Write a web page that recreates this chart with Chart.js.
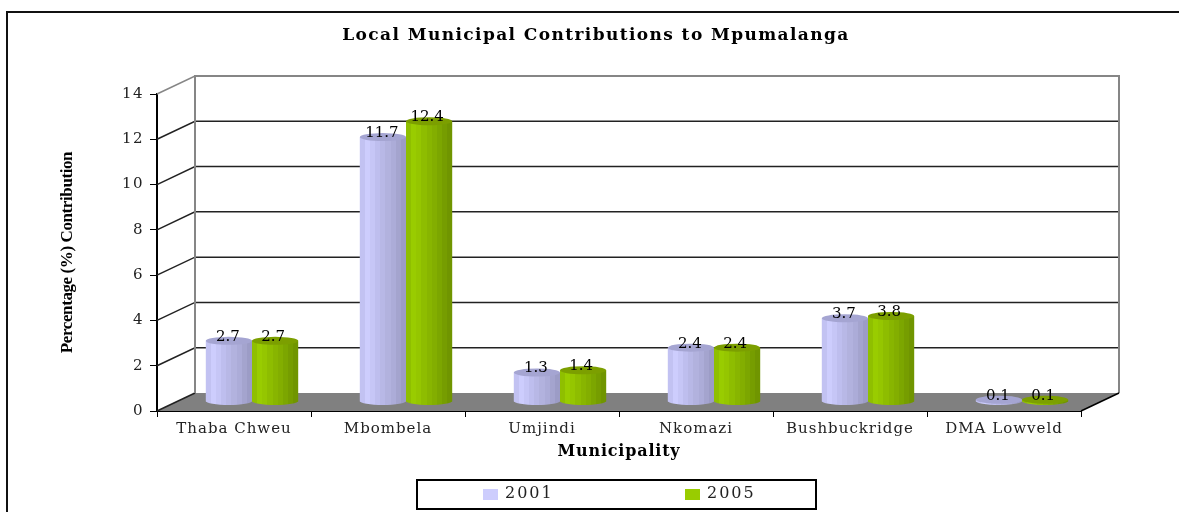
<!DOCTYPE html>
<html>
<head>
<meta charset="utf-8">
<title>Local Municipal Contributions to Mpumalanga</title>
<script src="https://cdn.jsdelivr.net/npm/chart.js@4"></script>
<style>
html, body { margin: 0; padding: 0; background: #fff; overflow: hidden; }
#wrap { position: relative; width: 1179px; height: 512px; }
</style>
</head>
<body>
<div id="wrap"><canvas id="barChart" width="1179" height="512"></canvas></div>
<script>
var labels = ['Thaba Chweu', 'Mbombela', 'Umjindi', 'Nkomazi', 'Bushbuckridge', 'DMA Lowveld'];
var data2001 = [2.7, 11.7, 1.3, 2.4, 3.7, 0.1];
var data2005 = [2.7, 12.4, 1.4, 2.4, 3.8, 0.1];
var yTicks = [0, 14, 2];

var serif = "'DejaVu Serif', serif";
var depthX = 38, depthY = -18;     // front axis to back wall
var barDX = 18, barDY = -9;        // bars stand half way in
var capRy = 4;

// colour bands across the cylinder, left to right
var bands2001 = ['#c2c2f2', '#cdcdfd', '#c6c6f6', '#bebeee', '#b8b8e6', '#b2b2de', '#acacd8', '#a4a4ce', '#9c9cc6'];
var bands2005 = ['#8fbf00', '#99cc00', '#95c600', '#8ebd00', '#88b500', '#83ae00', '#7ca600', '#769d00', '#709500'];
var capColors = ['#a5a5d2', '#7c9f00'];

function cylinderFill(ctx, bands, side) {
    var chart = ctx.chart;
    if (!chart.chartArea || ctx.dataIndex === undefined) return bands[1];
    var x = chart.scales.x;
    var c = x.getPixelForValue(ctx.dataIndex);
    var w = x.width / labels.length * 0.6 / 2;
    var x0 = side < 0 ? c - w : c;
    var g = chart.ctx.createLinearGradient(x0, 0, x0 + w, 0);
    bands.forEach(function (col, i) {
        g.addColorStop(i / bands.length, col);
        g.addColorStop((i + 1) / bands.length, col);
    });
    return g;
}

// canvas letter spacing for one text drawing method of a box
function spaced(box, method, px) {
    var draw = box[method];
    box[method] = function () {
        var c = box.ctx;
        c.letterSpacing = px + 'px';
        draw.apply(box, arguments);
        c.letterSpacing = '0px';
    };
}

// back wall, floor and the side wall lines
var wallsPlugin = {
    id: 'walls',
    beforeDatasetsDraw: function (chart) {
        var c = chart.ctx, a = chart.chartArea, y = chart.scales.y;
        c.save();
        c.fillStyle = '#808080';
        c.beginPath();
        c.moveTo(a.left, a.bottom);
        c.lineTo(a.left + depthX, a.bottom + depthY);
        c.lineTo(a.right + depthX, a.bottom + depthY);
        c.lineTo(a.right, a.bottom);
        c.closePath();
        c.fill();

        y.ticks.forEach(function (t) {
            var py = y.getPixelForValue(t.value);
            var top = t.value === yTicks[1];
            c.strokeStyle = top ? '#868686' : '#222';
            c.lineWidth = 1.5;
            c.beginPath();
            c.moveTo(a.left, py);
            c.lineTo(a.left + depthX, py + depthY);
            if (t.value !== 0) c.lineTo(a.right + depthX, py + depthY);
            c.stroke();
        });

        c.strokeStyle = '#868686';
        c.lineWidth = 2;
        c.beginPath();
        c.moveTo(a.right + depthX, a.bottom + depthY);
        c.lineTo(a.right + depthX, a.top + depthY);
        c.lineTo(a.left + depthX, a.top + depthY);
        c.lineTo(a.left + depthX, a.bottom + depthY);
        c.stroke();

        c.lineWidth = 1.5;
        c.beginPath();
        c.moveTo(a.right, a.bottom);
        c.lineTo(a.right + depthX, a.bottom + depthY);
        c.strokeStyle = '#000';
        c.stroke();
        c.restore();
    },
    // bars are pushed back into the box
    beforeDatasetDraw: function (chart) {
        chart.ctx.save();
        chart.ctx.translate(barDX, barDY);
    },
    afterDatasetDraw: function (chart, args) {
        var c = chart.ctx;
        var base = chart.scales.y.getPixelForValue(0);
        args.meta.data.forEach(function (bar, i) {
            var w = bar.width / 2;
            c.fillStyle = bar.options.backgroundColor;
            c.beginPath();
            c.ellipse(bar.x, base - 1, w, capRy, 0, 0, Math.PI);
            c.fill();
            c.fillStyle = capColors[args.index];
            c.beginPath();
            c.ellipse(bar.x, bar.y, w, capRy, 0, 0, Math.PI * 2);
            c.fill();
        });
        c.restore();
    },
    afterDatasetsDraw: function (chart) {
        var c = chart.ctx;
        c.save();
        c.fillStyle = '#000';
        c.font = '15px ' + serif;
        c.textAlign = 'center';
        c.textBaseline = 'middle';
        chart.data.datasets.forEach(function (ds, d) {
            chart.getDatasetMeta(d).data.forEach(function (bar, i) {
                c.fillText(ds.data[i].toFixed(1), bar.x + barDX - 1 - d, bar.y + barDY - 4);
            });
        });
        c.restore();
    }
};

// outer frame and the boxed legend under the chart
var framePlugin = {
    id: 'frame',
    afterLayout: function (chart) {
        chart.titleBlock.left += 27;
        chart.titleBlock.right += 27;
        if (!chart._spacedText) {
            chart._spacedText = true;
            spaced(chart.titleBlock, 'draw', 1.4);
            spaced(chart.scales.x, 'drawLabels', 1);
            spaced(chart.scales.x, 'drawTitle', 0.8);
            spaced(chart.scales.y, 'drawLabels', 1.5);
            spaced(chart.scales.y, 'drawTitle', -0.4);
        }
    },
    afterDraw: function (chart) {
        var c = chart.ctx;
        c.save();
        c.strokeStyle = '#111';
        c.lineWidth = 2;
        c.beginPath();
        c.moveTo(7, 512);
        c.lineTo(7, 12);
        c.lineTo(1179, 12);
        c.stroke();

        c.fillStyle = '#fff';
        c.fillRect(417, 480, 399, 29);
        c.strokeStyle = '#000';
        c.strokeRect(417, 480, 399, 29);

        var swatchX = [483, 685];
        c.font = '16px ' + serif;
        c.textBaseline = 'middle';
        c.letterSpacing = '2px';
        chart.data.datasets.forEach(function (ds, d) {
            c.fillStyle = d === 0 ? bands2001[1] : bands2005[1];
            c.fillRect(swatchX[d], 489, 15, 11);
            c.fillStyle = '#222';
            c.fillText(ds.label, swatchX[d] + 22, 494);
        });
        c.restore();
    }
};

var ctxBar = document.getElementById('barChart').getContext('2d');
var barChart = new Chart(ctxBar, {
    type: 'bar',
    data: {
        labels: labels,
        datasets: [
            {
                label: '2001',
                data: data2001,
                clip: false,
                barPercentage: 1,
                categoryPercentage: 0.6,
                backgroundColor: function (ctx) { return cylinderFill(ctx, bands2001, -1); }
            },
            {
                label: '2005',
                data: data2005,
                clip: false,
                barPercentage: 1,
                categoryPercentage: 0.6,
                backgroundColor: function (ctx) { return cylinderFill(ctx, bands2005, 1); }
            }
        ]
    },
    options: {
        responsive: false,
        animation: false,
        layout: {
            autoPadding: false,
            padding: { left: 57, right: 98, top: 27, bottom: 51 }
        },
        plugins: {
            legend: { display: false },
            tooltip: { enabled: false },
            title: {
                display: true,
                text: 'Local Municipal Contributions to Mpumalanga',
                color: '#000',
                font: { family: serif, size: 17, weight: 'bold', lineHeight: 1 },
                padding: { top: 0, bottom: 50 }
            }
        },
        scales: {
            x: {
                afterFit: function (scale) { scale.height = 50; },
                grid: { offset: true, drawOnChartArea: false, color: '#000', tickLength: 6, tickColor: '#000' },
                border: { display: true, color: '#000', width: 2 },
                ticks: { color: '#222', padding: 3, maxRotation: 0, font: { family: serif, size: 15 } },
                title: {
                    display: true,
                    text: 'Municipality',
                    color: '#000',
                    font: { family: serif, size: 16, weight: 'bold' },
                    padding: { top: 4, bottom: 0 }
                }
            },
            y: {
                min: yTicks[0],
                max: yTicks[1],
                afterFit: function (scale) { scale.width = 100; },
                grid: { drawOnChartArea: false, color: '#000', tickLength: 7, tickColor: '#000' },
                border: { display: true, color: '#000', width: 2 },
                ticks: { stepSize: yTicks[2], color: '#222', padding: 6, font: { family: serif, size: 15 } },
                title: {
                    display: true,
                    text: 'Percentage (%) Contribution',
                    color: '#000',
                    font: { family: "'Liberation Serif', serif", size: 17, weight: 'bold' },
                    padding: 0
                }
            }
        }
    },
    plugins: [wallsPlugin, framePlugin]
});
</script>
</body>
</html>
